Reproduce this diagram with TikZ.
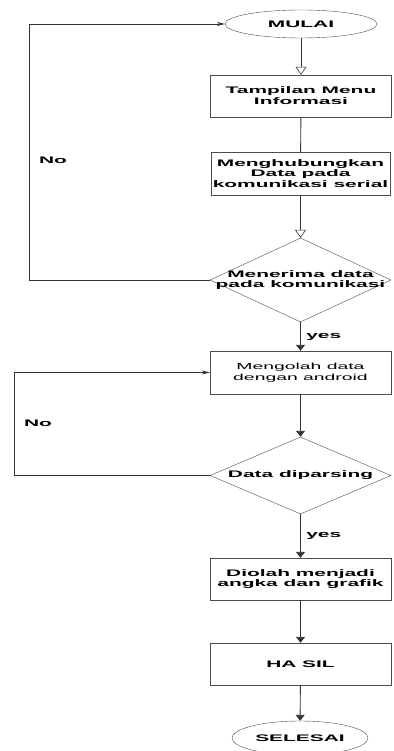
\documentclass[tikz,border=0pt]{standalone}
\usepackage{fontspec}
\setmainfont{Liberation Sans}[FakeStretch=2.2]
\usetikzlibrary{shapes.geometric,arrows.meta,positioning}
\begin{document}
\begin{tikzpicture}[x=1pt,y=-1pt,
        font=\fontsize{9.5}{10.8}\selectfont\bfseries,
        proc/.style={draw=black!70, rectangle, minimum width=181pt, minimum height=42pt, inner sep=0pt, align=center},
        term/.style={draw=black!70, ellipse, inner sep=0pt, align=center},
        decision/.style={draw=black!70, diamond, minimum width=181pt, minimum height=84pt, inner sep=0pt},
        flow/.style={draw=black!80, line width=0.9pt, -{Triangle[length=6pt,width=9pt]}},
        openflow/.style={draw=black!80, line width=0.9pt, -{Triangle[open,length=8pt,width=11pt,line width=0.6pt]}},
        loop/.style={draw=black!80, line width=0.7pt, -{Stealth[length=8pt,width=4pt]}}]
    \useasboundingbox (0,0) rectangle (393,751);
    \node[term, minimum width=152pt, minimum height=28pt] (start) at (301,24) {MULAI};
    \node[proc] (menu) at (301,96) {Tampilan Menu\\Informasi};
    \node[proc, minimum width=179pt, minimum height=43pt] (serial) at (300.5,173.5) {Menghubungkan\\Data pada\\komunikasi serial};
    \node[decision] (terima) at (300.5,280) {};
    \node[align=center, inner sep=0pt] (terimatext) at (terima.center) {Menerima data\\pada komunikasi};
    \node[proc, minimum height=43pt, font=\fontsize{8.8}{10.8}\selectfont] (olah) at (300.5,372.5) {Mengolah data\\dengan android};
    \node[decision, minimum height=77pt] (parsing) at (300.5,475.5) {};
    \node[inner sep=0pt] (parsingtext) at (parsing.center) {Data diparsing};
    \node[proc] (grafik) at (300.5,579) {Diolah menjadi\\angka dan grafik};
    \node[proc] (hasil) at (300.5,664) {HA SIL};
    \node[term, minimum width=136pt, minimum height=34pt] (selesai) at (300,738) {SELESAI};

    \draw[openflow] (start) -- (menu);
    \draw[draw=black!80, line width=0.9pt] (menu) -- (serial);
    \draw[openflow] (serial) -- (terima.north);
    \draw[flow] (terima.south) -- node[right, xshift=2pt] (yes1) {yes} (olah);
    \draw[flow] (olah) -- (parsing.north);
    \draw[flow] (parsing.south) -- node[right, xshift=2pt] (yes2) {yes} (grafik);
    \draw[flow] (grafik) -- (hasil);
    \draw[flow] (hasil) -- (selesai);

    \draw[loop] (terima.west) -- ++(-180,0) coordinate (c1) |- (start.west);
    \draw[loop] (parsing.west) -- ++(-195,0) coordinate (c2) |- (olah.west);
    \node (no1) at (53,160) {No};
    \node (no2) at (38,423) {No};
\end{tikzpicture}
\end{document}
